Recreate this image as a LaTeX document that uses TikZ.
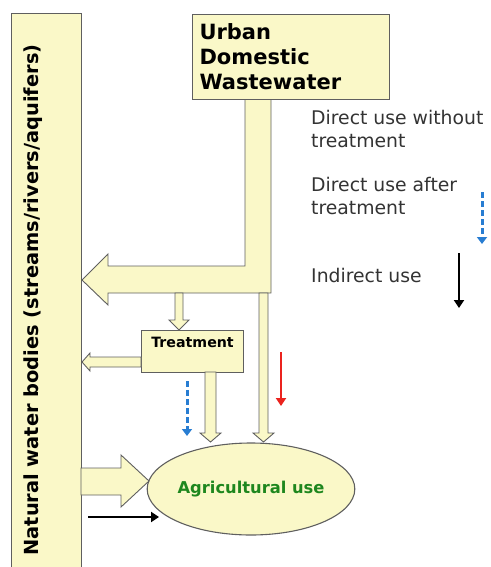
\documentclass[tikz,border=0pt]{standalone}
\usepackage{fontspec}
\setmainfont{DejaVu Sans}
\usetikzlibrary{shapes.geometric,arrows.meta}
\definecolor{pale}{RGB}{250,248,200}
\definecolor{edge}{RGB}{95,95,95}
\definecolor{agri}{RGB}{30,135,30}
\definecolor{blu}{RGB}{40,125,210}
\definecolor{rd}{RGB}{235,35,30}
\tikzset{
  pipe/.style={fill=pale,draw=edge,line width=0.9pt,line join=miter},
  boxstyle/.style={rectangle,fill=pale,draw=edge,line width=1.1pt,inner sep=0pt},
  legend/.style={anchor=base west,font=\fontsize{18.8}{22.5}\selectfont,text=black!80,align=left,inner sep=0pt},
  thinarrow/.style={line width=2.8pt,-{Triangle[length=8pt,width=10pt]}},
  dasharrow/.style={line width=3pt,dash pattern=on 6pt off 3pt,-{Triangle[length=7pt,width=10pt]}},
}
\begin{document}
\begin{tikzpicture}[x=1pt,y=-1pt]
\useasboundingbox (0,0) rectangle (490,567);
% natural water bodies
\node[boxstyle,minimum width=70,minimum height=560,anchor=north west] (nat) at (11,13) {};
\node[rotate=90,font=\bfseries\fontsize{19.4}{22}\selectfont] (natt) at (33,300) {Natural water bodies (streams/rivers/aquifers)};
% urban box
\node[boxstyle,minimum width=197,minimum height=85,anchor=north west,text width=183,align=left,inner xsep=7,
  font=\bfseries\fontsize{21}{25}\selectfont] (urb) at (192,14) {Urban\\Domestic\\Wastewater};
% L-shaped pipe
\draw[pipe] (urb.south -| 245,0) -- (245,266) -- (108,266) -- (108,254) -- (82,280) -- (108,305) -- (108,293) -- (271,293) -- (urb.south -| 271,0);
% treatment box
\node[boxstyle,minimum width=102,minimum height=42,anchor=north west,
  label={[anchor=north,yshift=-4,font=\bfseries\fontsize{14.2}{16}\selectfont]north:Treatment}] (treat) at (141,330) {};
% small arrow to treatment
\draw[pipe] (175,293) -- (175,320) -- (169,320) -- (179,330) -- (189,320) -- (183,320) -- (183,293) -- cycle;
% treatment to natural
\draw[pipe] (141,357) -- (90,357) -- (90,353) -- (82,362) -- (90,371) -- (90,367) -- (141,367) -- cycle;
% agricultural use
\node[ellipse,fill=pale,draw=edge,line width=1.1pt,minimum width=198,minimum height=92,inner sep=0pt,
  font=\bfseries\fontsize{16.3}{20}\selectfont,text=agri] (agr) at (251,489) {\raisebox{3pt}{Agricultural use}};
% treatment down arrow
\draw[pipe] (205,372) -- (205,433) -- (200,433) -- (210.5,442) -- (221,433) -- (216,433) -- (216,372) -- cycle;
% long thin pipe
\draw[pipe] (259,293) -- (259,433) -- (253,433) -- (263.5,442) -- (274,433) -- (268,433) -- (268,293) -- cycle;
% big right arrow
\draw[pipe] (81,468) -- (121,468) -- (121,455) -- (149,481) -- (121,507) -- (121,495) -- (81,495) -- cycle;
% thin arrows
\coordinate (b1) at (187,381); \coordinate (b2) at (187,436);
\draw[dasharrow,blu] (b1) -- (b2);
\coordinate (r1) at (281,352); \coordinate (r2) at (281,406);
\draw[thinarrow,rd] (r1) -- (r2);
\coordinate (k1) at (88,517); \coordinate (k2) at (159,517);
\draw[thinarrow,black] (k1) -- (k2);
% legend
\node[legend] (l1) at (311,147) {Direct use without\\treatment};
\node[legend] (l2) at (311,214) {Direct use after\\treatment};
\node[legend] (l3) at (311,282) {Indirect use};
\coordinate (lb1) at (482,192); \coordinate (lb2) at (482,244);
\draw[dasharrow,blu] (lb1) -- (lb2);
\coordinate (lk1) at (459,253); \coordinate (lk2) at (459,308);
\draw[thinarrow,black] (lk1) -- (lk2);
\end{tikzpicture}
\end{document}
